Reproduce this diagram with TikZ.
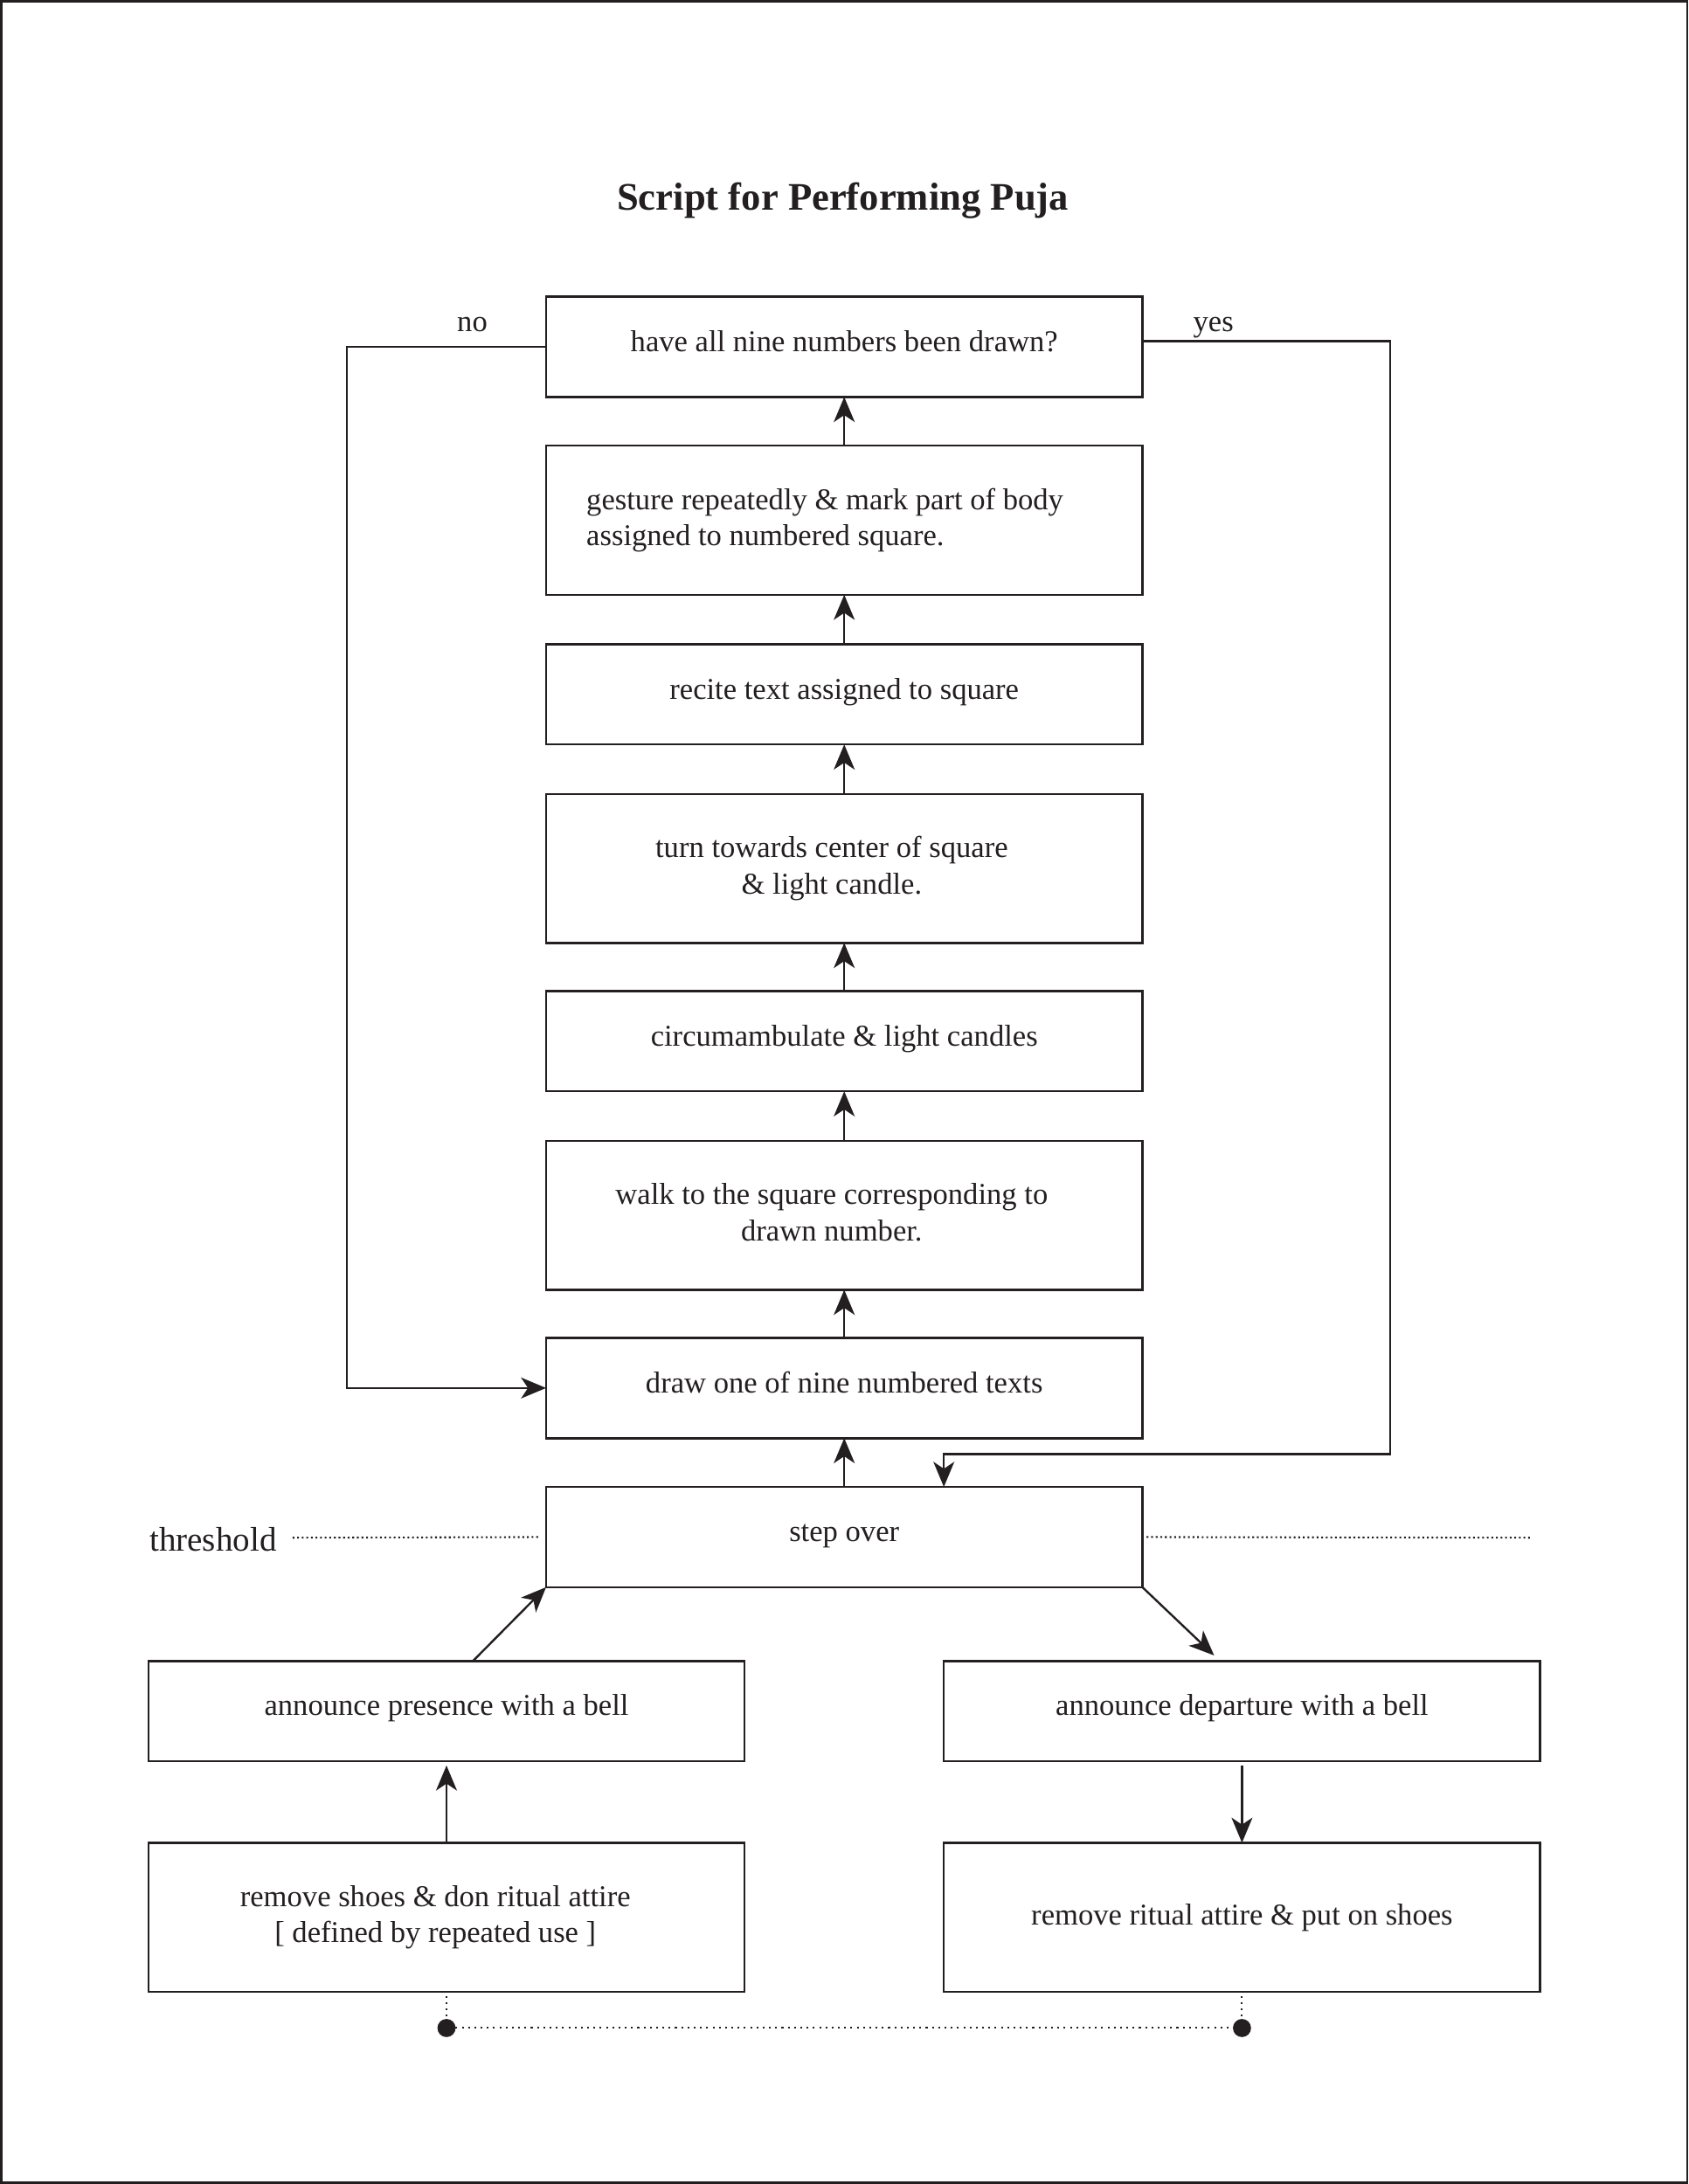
\documentclass[tikz,border=0pt]{standalone}
\usepackage{fontspec}
\setmainfont{Liberation Serif}
\usetikzlibrary{arrows.meta,calc}
\definecolor{ink}{RGB}{35,31,32}
\begin{document}
\begin{tikzpicture}[x=1pt,y=-1pt,
  every node/.style={font=\fontsize{21.7}{26}\selectfont, inner sep=0pt, outer sep=0pt, text=ink},
  lbl/.style={text height=15.2pt, text depth=5.4pt},
  base/.style={draw=ink, line width=1.6pt, minimum width=428pt, align=center},
  box/.style={base, minimum height=72pt, text height=15.2pt, text depth=8.6pt},
  tallbox/.style={base, minimum height=107pt},
  arr/.style={draw=ink, line width=1.5pt, -{Stealth[length=18pt,width=15pt,inset=5pt]}},
  thr/.style={draw=ink, line width=1.3pt, dash pattern=on 1.3pt off 2pt},
  dotl/.style={draw=ink, line width=1.3pt, dash pattern=on 1.3pt off 3.2pt},
  dot/.style={circle, fill=ink, minimum size=13pt, inner sep=0pt},
]
\useasboundingbox (0,0) rectangle (1212,1568);
\draw[ink, line width=1.6pt] (0.8,0.8) rectangle (1211.2,1567.2);

% title
\node[lbl, font=\fontsize{28}{32}\selectfont\bfseries] (title) at (605,146) {Script for Performing Puja};

% main column
\node[box] (q) at (606,249) {have all nine numbers been drawn?};
\node[tallbox, text width=370pt, align=flush left] (g) at (606,373.5) {gesture repeatedly \& mark part of body\\assigned to numbered square.};
\node[box] (r) at (606,498.5) {recite text assigned to square};
\node[tallbox] (t) at (606,623.5) {turn towards center of square\hspace*{18pt}\\\& light candle.\hspace*{18pt}};
\node[box] (c) at (606,747.5) {circumambulate \& light candles};
\node[tallbox] (w) at (606,872.5) {walk to the square corresponding to\hspace*{18pt}\\drawn number.\vphantom{g}\hspace*{18pt}};
\node[box] (d) at (606,996.5) {draw one of nine numbered texts};
\node[box] (s) at (606,1103.5) {step over};

% bottom boxes
\node[box] (pres) at (320.5,1228.5) {announce presence with a bell};
\node[tallbox] (rem) at (320.5,1376.5) {remove shoes \& don ritual attire\hspace*{16pt}\\{[} defined by repeated use {]}\hspace*{16pt}};
\node[box] (dep) at (891.5,1228.5) {announce departure with a bell};
\node[tallbox] (put) at (891.5,1376.5) {remove ritual attire \& put on shoes};

% labels
\node[lbl] (no) at (339,233) {no};
\node[lbl] (yes) at (871,233) {yes};
\node[lbl, font=\fontsize{24.5}{28}\selectfont] (th) at (153,1108.5) {threshold};

% vertical arrows
\draw[arr] (s.north) -- (d.south);
\draw[arr] (d.north) -- (w.south);
\draw[arr] (w.north) -- (c.south);
\draw[arr] (c.north) -- (t.south);
\draw[arr] (t.north) -- (r.south);
\draw[arr] (r.north) -- (g.south);
\draw[arr] (g.north) -- (q.south);

% no loop
\draw[arr] (q.west) -- ++(-143,0) |- (d.west);
% yes loop
\coordinate (ycorner) at (998,1044);
\draw[arr] ([yshift=4pt]q.east) -| (ycorner) -| ([xshift=71.5pt]s.north);

% threshold dotted lines
\coordinate (th1) at (210,1104);
\coordinate (thend) at (1100,1104);
\draw[thr] (th1) -- ([xshift=-4pt]s.west);
\draw[thr] ([xshift=3pt]s.east) -- (thend);

% bottom arrows
\draw[arr] ([xshift=19pt]pres.north) -- (s.south west);
\draw[arr] (s.south east) -- ([xshift=-20pt,yshift=4pt]dep.north);
\draw[arr] (rem.north) -- ([yshift=-3pt]pres.south);
\draw[arr] ([yshift=-3pt]dep.south) -- (put.north);

% dots
\node[dot] (d1) at (320.5,1456) {};
\node[dot] (d2) at (891.5,1456) {};
\draw[dotl] ([yshift=-3pt]rem.south) -- (d1.north);
\draw[dotl] ([yshift=-3pt]put.south) -- (d2.north);
\draw[dotl] (d1.east) -- (d2.west);
\end{tikzpicture}
\end{document}
